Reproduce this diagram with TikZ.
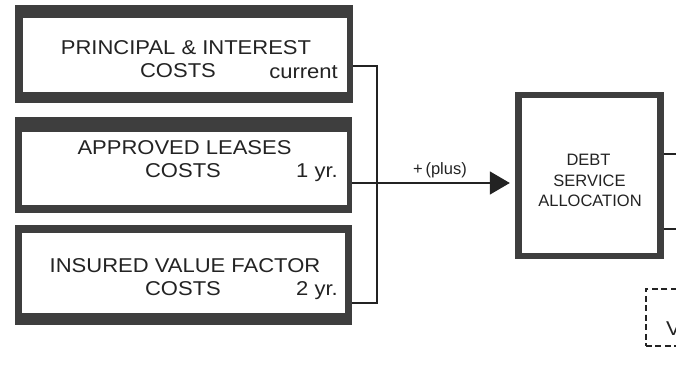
\documentclass[tikz,border=0pt]{standalone}
\usepackage{fontspec}
\setmainfont{Liberation Sans}
\newfontfamily\bigf{Liberation Sans}[FakeStretch=1.1]
\newfontfamily\smf{Liberation Sans}[FakeStretch=1.0]
\usetikzlibrary{arrows.meta}
\definecolor{bord}{RGB}{62,62,62}
\definecolor{ink}{RGB}{35,35,35}
\begin{document}
\begin{tikzpicture}[x=1pt,y=-1pt,
  outer/.style={fill=bord,draw=none,inner sep=0pt,rectangle},
  inner/.style={fill=white,draw=none,inner sep=0pt,rectangle},
  bigtxt/.style={font=\bigf\fontsize{20}{22}\selectfont,text=ink,anchor=base,inner sep=0pt},
  smtxt/.style={font=\smf\fontsize{16.5}{18}\selectfont,text=ink,anchor=base,inner sep=0pt},
  conn/.style={draw=ink,line width=1.6pt},
  dashbox/.style={draw=ink,line width=1.6pt,dash pattern=on 6pt off 3.5pt}]
\useasboundingbox (0,0) rectangle (676,371);
\clip (0,0) rectangle (676,371);
% boxes
\node[outer,minimum width=338pt,minimum height=98pt] (b1) at (184,54) {};
\node[inner,minimum width=324pt,minimum height=74pt] (b1i) at (185,55) {};
\node[outer,minimum width=337pt,minimum height=96pt] (b2) at (183.5,165) {};
\node[inner,minimum width=325pt,minimum height=73pt] (b2i) at (184.5,168.5) {};
\node[outer,minimum width=337pt,minimum height=100pt] (b3) at (183.5,275) {};
\node[inner,minimum width=323pt,minimum height=80pt] (b3i) at (183.5,273) {};
\node[outer,minimum width=149pt,minimum height=167pt] (ds) at (589.5,175.5) {};
\node[inner,minimum width=135pt,minimum height=155pt] (dsi) at (589.5,175.5) {};
% texts
\node[bigtxt] (t1a) at (186,55) {PRINCIPAL \& INTEREST};
\node[bigtxt] (t1b) at (178,78) {COSTS};
\node[bigtxt,anchor=base east] (t1c) at (338,79) {current};
\node[bigtxt] (t2a) at (184.5,155) {APPROVED LEASES};
\node[bigtxt] (t2b) at (183,178) {COSTS};
\node[bigtxt,anchor=base east] (t2c) at (338,178) {1 yr.};
\node[bigtxt] (t3a) at (185,272) {INSURED VALUE FACTOR};
\node[bigtxt] (t3b) at (183,295) {COSTS};
\node[bigtxt,anchor=base east] (t3c) at (338,295) {2 yr.};
\node[smtxt] (d1) at (588.5,166) {DEBT};
\node[smtxt] (d2) at (589.5,186.5) {SERVICE};
\node[smtxt] (d3) at (590,207) {ALLOCATION};
\node[smtxt] (plus) at (440,175) {+\,(plus)};
% connectors
\coordinate (j1) at (377,66);
\coordinate (j2) at (377,183);
\coordinate (j3) at (377,303);
\draw[conn] (b1.east |- j1) -- (j1) -- (j3) -- (b3.east |- j3);
\draw[conn,-{Triangle[length=20pt,width=23pt]},shorten >=5pt] (b2.east |- j2) -- (ds.west |- j2);
\coordinate (r1) at (690,154);
\coordinate (r2) at (690,229);
\draw[conn] (ds.east |- r1) -- (r1);
\draw[conn] (ds.east |- r2) -- (r2);
% dashed box at the edge
\node[dashbox,minimum width=120pt,minimum height=57pt,inner sep=0pt,anchor=north west] (vb) at (645,288) {};
\node[bigtxt,anchor=base west,font=\bigf\fontsize{20}{22}\selectfont] (vt) at (666,335) {V};
\end{tikzpicture}
\end{document}
